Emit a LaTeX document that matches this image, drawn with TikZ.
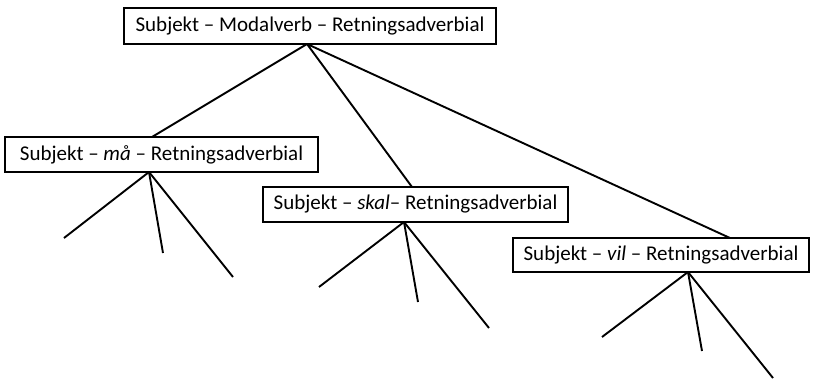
\documentclass[tikz,border=0pt]{standalone}
\usepackage{fontspec}
\setmainfont{Carlito}
\begin{document}
\begin{tikzpicture}[x=1pt,y=-1pt,
  box/.style={draw, line width=1.3pt, inner sep=0pt, font=\fontsize{21}{24}\selectfont, anchor=center},
  branch/.style={line width=1.9pt}]
\useasboundingbox (0,0) rectangle (819,380);
\node[box, minimum width=372, minimum height=36] (top) at (310,26) {Subjekt – Modalverb – Retningsadverbial};
\node[box, minimum width=313, minimum height=35] (ma) at (161.5,154.5) {Subjekt – \textit{må} – Retningsadverbial};
\node[box, minimum width=305, minimum height=35] (skal) at (415.5,204.5) {Subjekt – \textit{skal}– Retningsadverbial};
\node[box, minimum width=296, minimum height=34] (vil) at (661,255) {Subjekt – \textit{vil} – Retningsadverbial};
% apex points
\coordinate (tapex) at (307,44);
\coordinate (maTop) at (152,137);
\coordinate (skalTop) at (412,187);
\coordinate (vilTop) at (730,238);
\coordinate (maBot) at (149,172);
\coordinate (skalBot) at (404,222);
\coordinate (vilBot) at (688,272);
% leaves
\coordinate (m1) at (64,238);
\coordinate (m2) at (163,253);
\coordinate (m3) at (233,277);
\coordinate (s1) at (319,287);
\coordinate (s2) at (418,302);
\coordinate (s3) at (489,328);
\coordinate (v1) at (602,337);
\coordinate (v2) at (702,351);
\coordinate (v3) at (773,378);
\draw[branch] (tapex) -- (maTop);
\draw[branch] (tapex) -- (skalTop);
\draw[branch] (tapex) -- (vilTop);
\draw[branch] (maBot) -- (m1);
\draw[branch] (maBot) -- (m2);
\draw[branch] (maBot) -- (m3);
\draw[branch] (skalBot) -- (s1);
\draw[branch] (skalBot) -- (s2);
\draw[branch] (skalBot) -- (s3);
\draw[branch] (vilBot) -- (v1);
\draw[branch] (vilBot) -- (v2);
\draw[branch] (vilBot) -- (v3);
\end{tikzpicture}
\end{document}
